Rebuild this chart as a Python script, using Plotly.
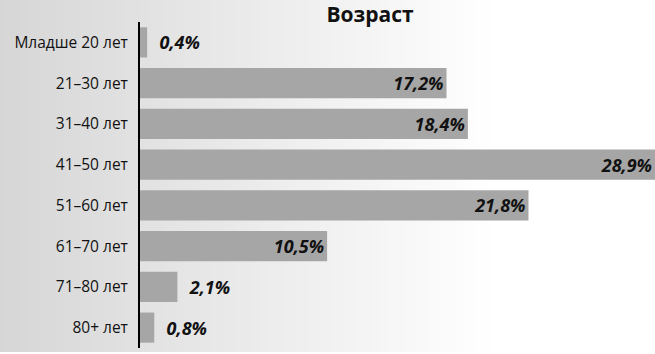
import plotly.graph_objects as go

# Age groups and share of respondents (%)
categories = ["Младше 20 лет", "21–30 лет", "31–40 лет", "41–50 лет",
              "51–60 лет", "61–70 лет", "71–80 лет", "80+ лет"]
shares = [0.4, 17.2, 18.4, 28.9, 21.8, 10.5, 2.1, 0.8]

W, H = 655, 354
L, R, T, B = 140, 0, 22, 6
plot_w = W - L - R
plot_h = H - T - B

# Long bars carry their label inside, short bars outside with a small gap
labels = []
positions = []
for v in shares:
    s = f"{v:.1f}%".replace(".", ",")
    if v >= 5:
        labels.append(s)
        positions.append("inside")
    else:
        labels.append("\u00a0\u00a0" + s)
        positions.append("outside")

fig = go.Figure(go.Bar(
    y=categories,
    x=shares,
    orientation="h",
    marker=dict(color="#a6a6a6", line=dict(width=0)),
    text=labels,
    textposition=positions,
    insidetextanchor="end",
    textangle=0,
    constraintext="none",
    cliponaxis=False,
    textfont=dict(family="Open Sans", size=18, color="#111111",
                  weight="bold", style="italic"),
    hoverinfo="skip",
))

# Horizontal grey-to-white background gradient
shapes = []
step = 5
grad_end = 495
for x in range(0, W, step):
    t = min(1.0, (x + step / 2) / grad_end)
    c = int(round(0xd6 + (0xff - 0xd6) * t))
    shapes.append(dict(
        type="rect", layer="below", line=dict(width=0),
        xref="paper", yref="paper",
        x0=(x - L) / plot_w, x1=(x + step + 1 - L) / plot_w,
        y0=(2 - B) / plot_h, y1=(H - B) / plot_h + 0.1,
        fillcolor=f"rgb({c},{c},{c})",
    ))

fig.update_layout(
    width=W, height=H,
    margin=dict(l=L, r=R, t=T, b=B),
    paper_bgcolor="white",
    plot_bgcolor="rgba(0,0,0,0)",
    shapes=shapes,
    bargap=0.26,
    showlegend=False,
    title=dict(text="<b>Возраст</b>", x=370 / W, xanchor="center",
               y=1 - 15 / H, yanchor="middle",
               font=dict(family="Open Sans", size=21, color="#111111")),
    xaxis=dict(range=[0, 28.9], visible=False, fixedrange=True),
    yaxis=dict(autorange="reversed", showline=True, linecolor="black",
               linewidth=2, ticks="", showgrid=False, zeroline=False,
               ticklabelstandoff=7,
               tickfont=dict(family="Open Sans", size=15.5, color="#111111")),
)

fig.write_html("out.html")
